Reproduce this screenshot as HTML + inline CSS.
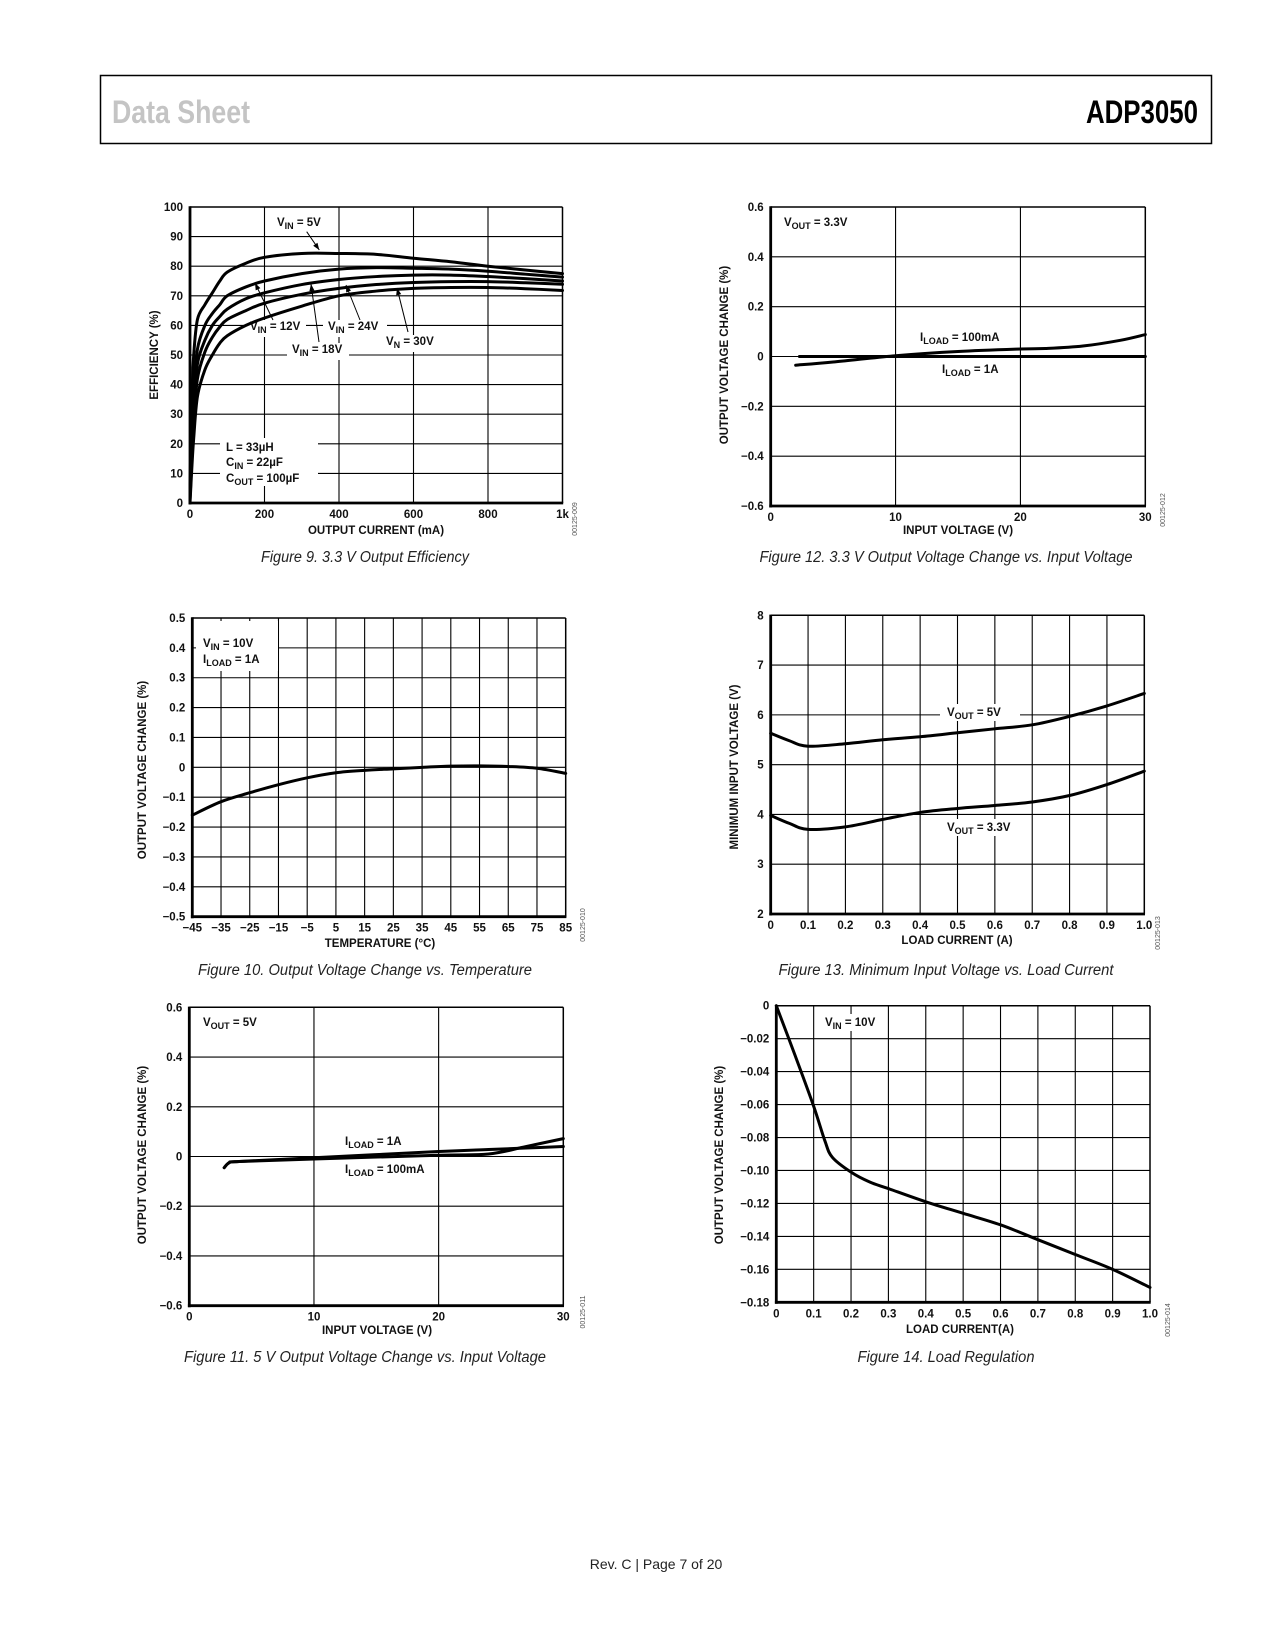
<!DOCTYPE html>
<html><head><meta charset="utf-8"><style>
html,body{margin:0;padding:0;background:#fff;}
svg{display:block;}
text{font-family:"Liberation Sans",Arial,sans-serif;}
.tk{font-size:11.5px;font-weight:bold;fill:#111;}
.ttl{font-size:11.5px;font-weight:bold;fill:#111;}
.cap{font-family:"Liberation Sans Narrow","Liberation Sans",sans-serif;font-style:italic;font-size:15.5px;fill:#222;}
.ann{font-size:11.5px;font-weight:bold;fill:#111;}
.code{font-size:7px;fill:#555;}
</style></head><body>
<svg id="page" width="1275" height="1650" viewBox="0 0 1275 1650" xmlns="http://www.w3.org/2000/svg">
<rect x="0" y="0" width="1275" height="1650" fill="#fff"/>
<rect x="100.5" y="75.5" width="1111" height="68" fill="none" stroke="#000" stroke-width="1.5"/>
<text x="112" y="123" textLength="138" lengthAdjust="spacingAndGlyphs" style="font-family:'Liberation Sans Narrow','Liberation Sans',sans-serif;font-weight:bold;font-size:32px;fill:#c4c4c4">Data Sheet</text>
<text x="1086" y="123" textLength="112" lengthAdjust="spacingAndGlyphs" style="font-family:'Liberation Sans Narrow','Liberation Sans',sans-serif;font-weight:bold;font-size:32px;fill:#000">ADP3050</text>
<text x="656" y="1569" text-anchor="middle" style="font-size:14px;fill:#222">Rev. C | Page 7 of 20</text>
</svg>
<script>
// ---------- Figure 9 data ----------
const f9Current = [0,5,10,20,40,60,80,100,150,200,300,400,500,600,700,800,900,1000];
const f9Vin5  = [5,35,50,62,67,71,75,78,81,83,84.3,84.3,84,82.7,81.5,80,78.7,77.5];
const f9Vin12 = [3,25,38,52,60,64,67,70,73,75,77.5,79,79.5,79.3,79,78.3,77.3,76.3];
const f9Vin18 = [2,20,32,47,55,60,63,65.5,69,71,73.8,75.5,76.5,77,77,76.5,75.8,75];
const f9Vin24 = [1,15,27,42,51,56,59.5,62,65,67.5,70.5,72.5,73.8,74.5,74.8,74.8,74.4,73.9];
const f9Vin30 = [0,12,22,36,45,50,54,56.5,60,62.5,66.5,70,71.6,72.5,72.8,72.8,72.4,71.8];
const f9XTicks = ['0','200','400','600','800','1k'];
const f9YTicks = ['0','10','20','30','40','50','60','70','80','90','100'];
// ---------- Figure 12 data ----------
const f12Vin = [2,5,10,15,20,22,25,28,30];
const f12Load100mA = [-0.035,-0.022,0.003,0.02,0.03,0.032,0.042,0.065,0.088];
const f12Vin1A = [2.3,30];
const f12Load1A = [0,0];
const f12XTicks = ['0','10','20','30'];
const f12YTicks = ['\u22120.6','\u22120.4','\u22120.2','0','0.2','0.4','0.6'];
// ---------- Figure 10 data ----------
const f10Temp = [-45,-35,-25,-15,-5,5,15,25,35,45,55,65,75,85];
const f10Change = [-0.16,-0.115,-0.085,-0.058,-0.035,-0.018,-0.01,-0.005,0,0.004,0.005,0.003,-0.003,-0.02];
const f10XTicks = ['\u221245','\u221235','\u221225','\u221215','\u22125','5','15','25','35','45','55','65','75','85'];
const f10YTicks = ['\u22120.5','\u22120.4','\u22120.3','\u22120.2','\u22120.1','0','0.1','0.2','0.3','0.4','0.5'];
// ---------- Figure 13 data ----------
const f13Load = [0,0.05,0.1,0.2,0.3,0.4,0.5,0.6,0.7,0.8,0.9,1.0];
const f13Vout5 = [5.63,5.48,5.37,5.42,5.5,5.56,5.64,5.72,5.8,5.97,6.18,6.43];
const f13Vout33 = [3.98,3.82,3.7,3.75,3.9,4.04,4.12,4.18,4.25,4.38,4.6,4.87];
const f13XTicks = ['0','0.1','0.2','0.3','0.4','0.5','0.6','0.7','0.8','0.9','1.0'];
const f13YTicks = ['2','3','4','5','6','7','8'];
// ---------- Figure 11 data ----------
const f11Vin = [2.8,3.2,4,10,20,24,27,30];
const f11Load1A = [-0.045,-0.025,-0.02,-0.005,0.02,0.028,0.034,0.04];
const f11Load100mA = [-0.045,-0.025,-0.02,-0.01,0.005,0.01,0.04,0.072];
const f11XTicks = ['0','10','20','30'];
const f11YTicks = ['\u22120.6','\u22120.4','\u22120.2','0','0.2','0.4','0.6'];
// ---------- Figure 14 data ----------
const f14Load = [0,0.05,0.1,0.13,0.15,0.2,0.25,0.3,0.4,0.5,0.6,0.7,0.8,0.9,1.0];
const f14Change = [0,-0.03,-0.061,-0.082,-0.092,-0.101,-0.107,-0.111,-0.119,-0.126,-0.133,-0.142,-0.151,-0.16,-0.171];
const f14XTicks = ['0','0.1','0.2','0.3','0.4','0.5','0.6','0.7','0.8','0.9','1.0'];
const f14YTicks = ['\u22120.18','\u22120.16','\u22120.14','\u22120.12','\u22120.10','\u22120.08','\u22120.06','\u22120.04','\u22120.02','0'];

const NS = 'http://www.w3.org/2000/svg';
const svg = document.getElementById('page');
function mk(tag, parent){ const e = document.createElementNS(NS, tag); parent.appendChild(e); return e; }
function line(p, x1,y1,x2,y2,w){ const l = mk('line',p); l.setAttribute('x1',x1); l.setAttribute('y1',y1); l.setAttribute('x2',x2); l.setAttribute('y2',y2); l.setAttribute('stroke','#000'); l.setAttribute('stroke-width',w); return l; }
function txt(p, x, y, s, cls, anchor){ const t = mk('text',p); t.setAttribute('x',x); t.setAttribute('y',y); t.setAttribute('class',cls); if(anchor) t.setAttribute('text-anchor',anchor); t.textContent = s; return t; }
function smoothPath(pts){
  let d = 'M'+pts[0][0].toFixed(2)+' '+pts[0][1].toFixed(2);
  for(let i=0;i<pts.length-1;i++){
    const p0 = pts[i-1]||pts[i], p1 = pts[i], p2 = pts[i+1], p3 = pts[i+2]||p2;
    const c1 = [p1[0]+(p2[0]-p0[0])/6, p1[1]+(p2[1]-p0[1])/6];
    const c2 = [p2[0]-(p3[0]-p1[0])/6, p2[1]-(p3[1]-p1[1])/6];
    d += ' C'+c1[0].toFixed(2)+' '+c1[1].toFixed(2)+' '+c2[0].toFixed(2)+' '+c2[1].toFixed(2)+' '+p2[0].toFixed(2)+' '+p2[1].toFixed(2);
  }
  return d;
}
function subLabel(p, x, y, main, sub, rest, bg){
  const g = mk('g', p);
  if(bg){ const r = mk('rect', g); r.setAttribute('x', bg[0]); r.setAttribute('y', bg[1]); r.setAttribute('width', bg[2]); r.setAttribute('height', bg[3]); r.setAttribute('fill','#fff'); }
  const t = mk('text', g); t.setAttribute('x', x); t.setAttribute('y', y); t.setAttribute('class','ann');
  const a = mk('tspan', t); a.textContent = main;
  const b = mk('tspan', t); b.setAttribute('dy', '3'); b.setAttribute('font-size','9'); b.textContent = sub;
  const c = mk('tspan', t); c.setAttribute('dy', '-3'); c.textContent = rest;
  return g;
}
function chart(o){
  const g = mk('g', svg);
  
  
  const sx = v => o.L + (v - o.x0)/(o.x1 - o.x0)*(o.R - o.L);
  const sy = v => o.B - (v - o.y0)/(o.y1 - o.y0)*(o.B - o.T);
  const grid = mk('g', g);
  
  
  for(let i=1;i<o.nx;i++){ const x = o.L + i*(o.R-o.L)/o.nx; line(grid, x, o.T, x, o.B, 1.1); }
  for(let i=1;i<o.ny;i++){ const y = o.T + i*(o.B-o.T)/o.ny; line(grid, o.L, y, o.R, y, 1.1); }
  line(grid, o.L, o.T, o.R, o.T, 1.5); line(grid, o.R, o.T, o.R, o.B, 1.5);
  line(grid, o.L, o.T-0.7, o.L, o.B+1.5, 2.8); line(grid, o.L-1.4, o.B, o.R+0.7, o.B, 2.8);
  const xt = mk('g', g);
  
  
  o.xTicks.forEach((s,i)=>{ const x = o.L + i*(o.R-o.L)/(o.xTicks.length-1); txt(xt, x, o.B + 15, s, 'tk', 'middle'); });
  const yt = mk('g', g);
  
  
  o.yTicks.forEach((s,i)=>{ const y = o.B - i*(o.B-o.T)/(o.yTicks.length-1); txt(yt, o.L - 7, y + 4, s, 'tk', 'end'); });
  const xT = txt(g, o.xtX, o.xtY, o.xTitle, 'ttl', 'middle');
  
  
  const yT = txt(g, 0, 0, o.yTitle, 'ttl', 'middle');
  yT.setAttribute('transform', 'translate(' + o.ytX + ',' + o.ytY + ') rotate(-90)');
  
  
  const cd = txt(g, 0, 0, o.code, 'code', 'middle');
  cd.setAttribute('transform', 'translate(' + o.cdX + ',' + o.cdY + ') rotate(-90)');
  
  
  const cap = txt(svg, o.capX - o.capW/2, o.capY, o.caption, 'cap', null);
  cap.setAttribute('textLength', o.capW);
  cap.setAttribute('lengthAdjust', 'spacingAndGlyphs');
  
  
  const ann = mk('g', g);
  
  
  o.labels.forEach(l => subLabel(ann, l[0], l[1], l[2], l[3], l[4], l[5]));
  if(o.arrows) o.arrows.forEach(a => {
    line(ann, a[0], a[1], a[2], a[3], 1);
    const ang = Math.atan2(a[3]-a[1], a[2]-a[0]);
    const pg = mk('polygon', ann);
    const L = 7, W = 2.6;
    const bx = a[2] - L*Math.cos(ang), by = a[3] - L*Math.sin(ang);
    pg.setAttribute('points', a[2]+','+a[3]+' '+(bx + W*Math.sin(ang))+','+(by - W*Math.cos(ang))+' '+(bx - W*Math.sin(ang))+','+(by + W*Math.cos(ang)));
    pg.setAttribute('fill', '#000');
  });
  o.series.forEach(s => {
    const pts = s.x.map((v,i)=>[sx(v), sy(s.y[i])]);
    const p = mk('path', g);
    p.setAttribute('d', smoothPath(pts));
    p.setAttribute('fill', 'none');
    p.setAttribute('stroke', '#000');
    p.setAttribute('stroke-width', '3');
    p.setAttribute('stroke-linecap', 'round');
    
    
  });
}

chart({name:'figure-9-efficiency', L:190, R:562.5, T:207, B:503, x0:0, x1:1000, y0:0, y1:100, nx:5, ny:10,
  xTicks:f9XTicks, yTicks:f9YTicks, xTitle:'OUTPUT CURRENT (mA)', xtX:376, xtY:534, yTitle:'EFFICIENCY (%)', ytX:158, ytY:355,
  code:'00125-009', cdX:577, cdY:519, caption:'Figure 9. 3.3 V Output Efficiency', capX:365, capW:208, capY:562,
  labels:[[277,226,'V','IN',' = 5V',[272,214,58,16]],[250,330,'V','IN',' = 12V',[244,320,62,17]],[328,330,'V','IN',' = 24V',[323,320,64,17]],
          [292,353,'V','IN',' = 18V',[287,343,62,17]],[386,345,'V','N',' = 30V',[381,335,56,17]],
          [226,451,'L = 33\u00b5H','','',[220,438,98,48]],[226,466,'C','IN',' = 22\u00b5F',null],[226,482,'C','OUT',' = 100\u00b5F',null]],
  arrows:[[306.7,231.7,319.3,250],[273,320,255,283],[360,320,346,285],[319,342,311,284],[408,332,397,288]],
  series:[{name:'vin-5v-curve',x:f9Current,y:f9Vin5},{name:'vin-12v-curve',x:f9Current,y:f9Vin12},{name:'vin-18v-curve',x:f9Current,y:f9Vin18},
          {name:'vin-24v-curve',x:f9Current,y:f9Vin24},{name:'vin-30v-curve',x:f9Current,y:f9Vin30}]});

chart({name:'figure-12-3v3-line-regulation', L:770.7, R:1145.3, T:207, B:506, x0:0, x1:30, y0:-0.6, y1:0.6, nx:3, ny:6,
  xTicks:f12XTicks, yTicks:f12YTicks, xTitle:'INPUT VOLTAGE (V)', xtX:958, xtY:534, yTitle:'OUTPUT VOLTAGE CHANGE (%)', ytX:728, ytY:355,
  code:'00125-012', cdX:1165, cdY:510, caption:'Figure 12. 3.3 V Output Voltage Change vs. Input Voltage', capX:946, capW:373, capY:562,
  labels:[[784,226,'V','OUT',' = 3.3V',null],[920,341,'I','LOAD',' = 100mA',[915,330,92,16]],[942,373,'I','LOAD',' = 1A',[937,362,68,16]]],
  series:[{name:'iload-100ma-curve',x:f12Vin,y:f12Load100mA},{name:'iload-1a-curve',x:f12Vin1A,y:f12Load1A}]});

chart({name:'figure-10-temperature', L:192.3, R:565.7, T:618, B:916.7, x0:-45, x1:85, y0:-0.5, y1:0.5, nx:13, ny:10,
  xTicks:f10XTicks, yTicks:f10YTicks, xTitle:'TEMPERATURE (\u00b0C)', xtX:380, xtY:947, yTitle:'OUTPUT VOLTAGE CHANGE (%)', ytX:146, ytY:770,
  code:'00125-010', cdX:585, cdY:925, caption:'Figure 10. Output Voltage Change vs. Temperature', capX:365, capW:334, capY:975,
  labels:[[203,647,'V','IN',' = 10V',[196,621,82,50]],[203,663,'I','LOAD',' = 1A',null]],
  series:[{name:'temperature-curve',x:f10Temp,y:f10Change}]});

chart({name:'figure-13-min-input-voltage', L:770.7, R:1144.3, T:615.3, B:914, x0:0, x1:1, y0:2, y1:8, nx:10, ny:6,
  xTicks:f13XTicks, yTicks:f13YTicks, xTitle:'LOAD CURRENT (A)', xtX:957, xtY:944, yTitle:'MINIMUM INPUT VOLTAGE (V)', ytX:738, ytY:767,
  code:'00125-013', cdX:1160, cdY:933, caption:'Figure 13. Minimum Input Voltage vs. Load Current', capX:946, capW:335, capY:975,
  labels:[[947,716,'V','OUT',' = 5V',[940,704,80,17]],[947,831,'V','OUT',' = 3.3V',[940,819,80,17]]],
  series:[{name:'vout-5v-curve',x:f13Load,y:f13Vout5},{name:'vout-3v3-curve',x:f13Load,y:f13Vout33}]});

chart({name:'figure-11-5v-line-regulation', L:189.3, R:563.3, T:1007.3, B:1305.7, x0:0, x1:30, y0:-0.6, y1:0.6, nx:3, ny:6,
  xTicks:f11XTicks, yTicks:f11YTicks, xTitle:'INPUT VOLTAGE (V)', xtX:377, xtY:1334, yTitle:'OUTPUT VOLTAGE CHANGE (%)', ytX:146, ytY:1155,
  code:'00125-011', cdX:585, cdY:1312, caption:'Figure 11. 5 V Output Voltage Change vs. Input Voltage', capX:365, capW:362, capY:1362,
  labels:[[203,1026,'V','OUT',' = 5V',null],[345,1145,'I','LOAD',' = 1A',null],[345,1173,'I','LOAD',' = 100mA',null]],
  series:[{name:'iload-1a-curve',x:f11Vin,y:f11Load1A},{name:'iload-100ma-curve',x:f11Vin,y:f11Load100mA}]});

chart({name:'figure-14-load-regulation', L:776.3, R:1150, T:1005.7, B:1302.3, x0:0, x1:1, y0:-0.18, y1:0, nx:10, ny:9,
  xTicks:f14XTicks, yTicks:f14YTicks, xTitle:'LOAD CURRENT(A)', xtX:960, xtY:1333, yTitle:'OUTPUT VOLTAGE CHANGE (%)', ytX:723, ytY:1155,
  code:'00125-014', cdX:1170, cdY:1320, caption:'Figure 14. Load Regulation', capX:946, capW:177, capY:1362,
  labels:[[825,1026,'V','IN',' = 10V',[819,1014,64,17]]],
  series:[{name:'load-regulation-curve',x:f14Load,y:f14Change}]});
</script>
</body></html>
